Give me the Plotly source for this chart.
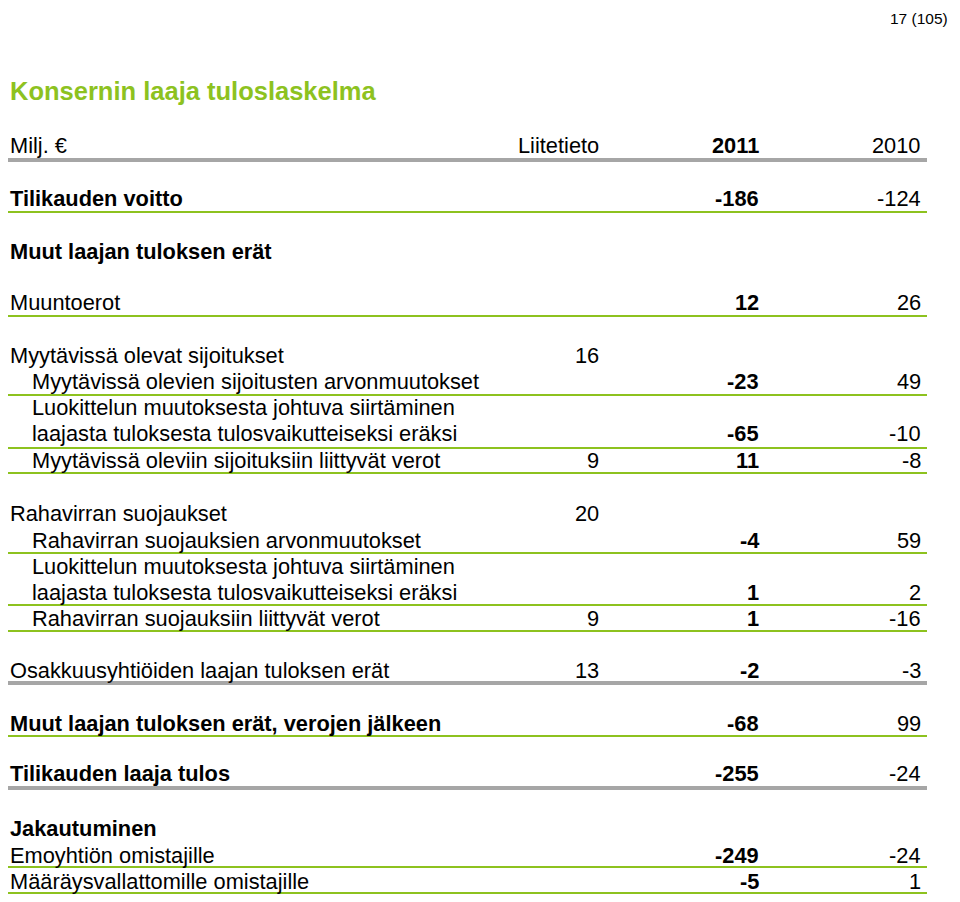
import plotly.graph_objects as go

# --- table content ---
labels = [
    "Milj. €", "Tilikauden voitto", "Muut laajan tuloksen erät", "Muuntoerot",
    "Myytävissä olevat sijoitukset", "Myytävissä olevien sijoitusten arvonmuutokset",
    "Luokittelun muutoksesta johtuva siirtäminen",
    "laajasta tuloksesta tulosvaikutteiseksi eräksi",
    "Myytävissä oleviin sijoituksiin liittyvät verot",
    "Rahavirran suojaukset", "Rahavirran suojauksien arvonmuutokset",
    "Luokittelun muutoksesta johtuva siirtäminen",
    "laajasta tuloksesta tulosvaikutteiseksi eräksi",
    "Rahavirran suojauksiin liittyvät verot",
    "Osakkuusyhtiöiden laajan tuloksen erät",
    "Muut laajan tuloksen erät, verojen jälkeen",
    "Tilikauden laaja tulos", "Jakautuminen",
    "Emoyhtiön omistajille", "Määräysvallattomille omistajille",
]
notes = ["Liitetieto", "", "", "", "16", "", "", "", "9", "20", "", "", "", "9",
         "13", "", "", "", "", ""]
vals_2011 = ["2011", "-186", "", "12", "", "-23", "", "-65", "11", "", "-4", "",
             "1", "1", "-2", "-68", "-255", "", "-249", "-5"]
vals_2010 = ["2010", "-124", "", "26", "", "49", "", "-10", "-8", "", "59", "",
             "2", "-16", "-3", "99", "-24", "", "-24", "1"]

# --- layout of rows (pixel coordinates on the 960x902 page) ---
row_y = [145, 198, 251, 302, 355, 381, 407, 433, 460, 513, 540, 566, 592, 618,
         670, 723, 773, 828, 855, 881]
indent = [0, 0, 0, 0, 0, 1, 1, 1, 1, 0, 1, 1, 1, 1, 0, 0, 0, 0, 0, 0]
bold = [0, 1, 1, 0, 0, 0, 0, 0, 0, 0, 0, 0, 0, 0, 0, 1, 1, 1, 0, 0]
gray_rules = [160, 683, 788]
green_rules = [212, 316, 395, 448, 473, 553, 605, 631, 736, 867, 893]

GREEN = "#8dc21f"
GRAY = "#a6a6a6"
FONT = "Liberation Sans, Arial, sans-serif"
FS = 21.8
PAD = 8  # browser body margin around the plot div

fig = go.Figure()
fig.add_trace(go.Scatter(x=[PAD, 960 - PAD], y=[PAD, 902 - PAD], mode="markers",
                         marker=dict(opacity=0), hoverinfo="skip", showlegend=False))


def b(t, on):
    return f"<b>{t}</b>" if (on and t) else t


for i, lab in enumerate(labels):
    y = row_y[i]
    fig.add_annotation(x=30 if indent[i] else 8, y=y, text=b(lab, bold[i]),
                       xanchor="left", yanchor="middle", showarrow=False)
    if notes[i]:
        fig.add_annotation(x=601, y=y, text=notes[i], xanchor="right",
                           yanchor="middle", showarrow=False)
    if vals_2011[i]:
        fig.add_annotation(x=761, y=y, text=b(vals_2011[i], True), xanchor="right",
                           yanchor="middle", showarrow=False)
    if vals_2010[i]:
        fig.add_annotation(x=923, y=y, text=vals_2010[i], xanchor="right",
                           yanchor="middle", showarrow=False)

for y in gray_rules:
    fig.add_shape(type="line", x0=4, x1=927, y0=y, y1=y,
                  line=dict(color=GRAY, width=4))
for y in green_rules:
    fig.add_shape(type="line", x0=4, x1=927, y0=y, y1=y,
                  line=dict(color=GREEN, width=2))

fig.add_annotation(x=8, y=91, text="<b>Konsernin laaja tuloslaskelma</b>",
                   xanchor="left", yanchor="middle", showarrow=False,
                   font=dict(size=25.5, color=GREEN))
fig.add_annotation(x=0.998, xref="paper", y=1, yref="paper", text="17 (105)",
                   xanchor="right", yanchor="top", showarrow=False,
                   font=dict(size=15.5))

fig.update_xaxes(range=[PAD, 960 - PAD], visible=False, fixedrange=True)
fig.update_yaxes(range=[902 - PAD, PAD], visible=False, fixedrange=True)
fig.update_layout(
    width=960 - 2 * PAD, height=902 - 2 * PAD,
    margin=dict(l=0, r=0, t=0, b=0),
    paper_bgcolor="white", plot_bgcolor="white",
    font=dict(family=FONT, size=FS, color="black"),
)
fig.write_html("out.html")
